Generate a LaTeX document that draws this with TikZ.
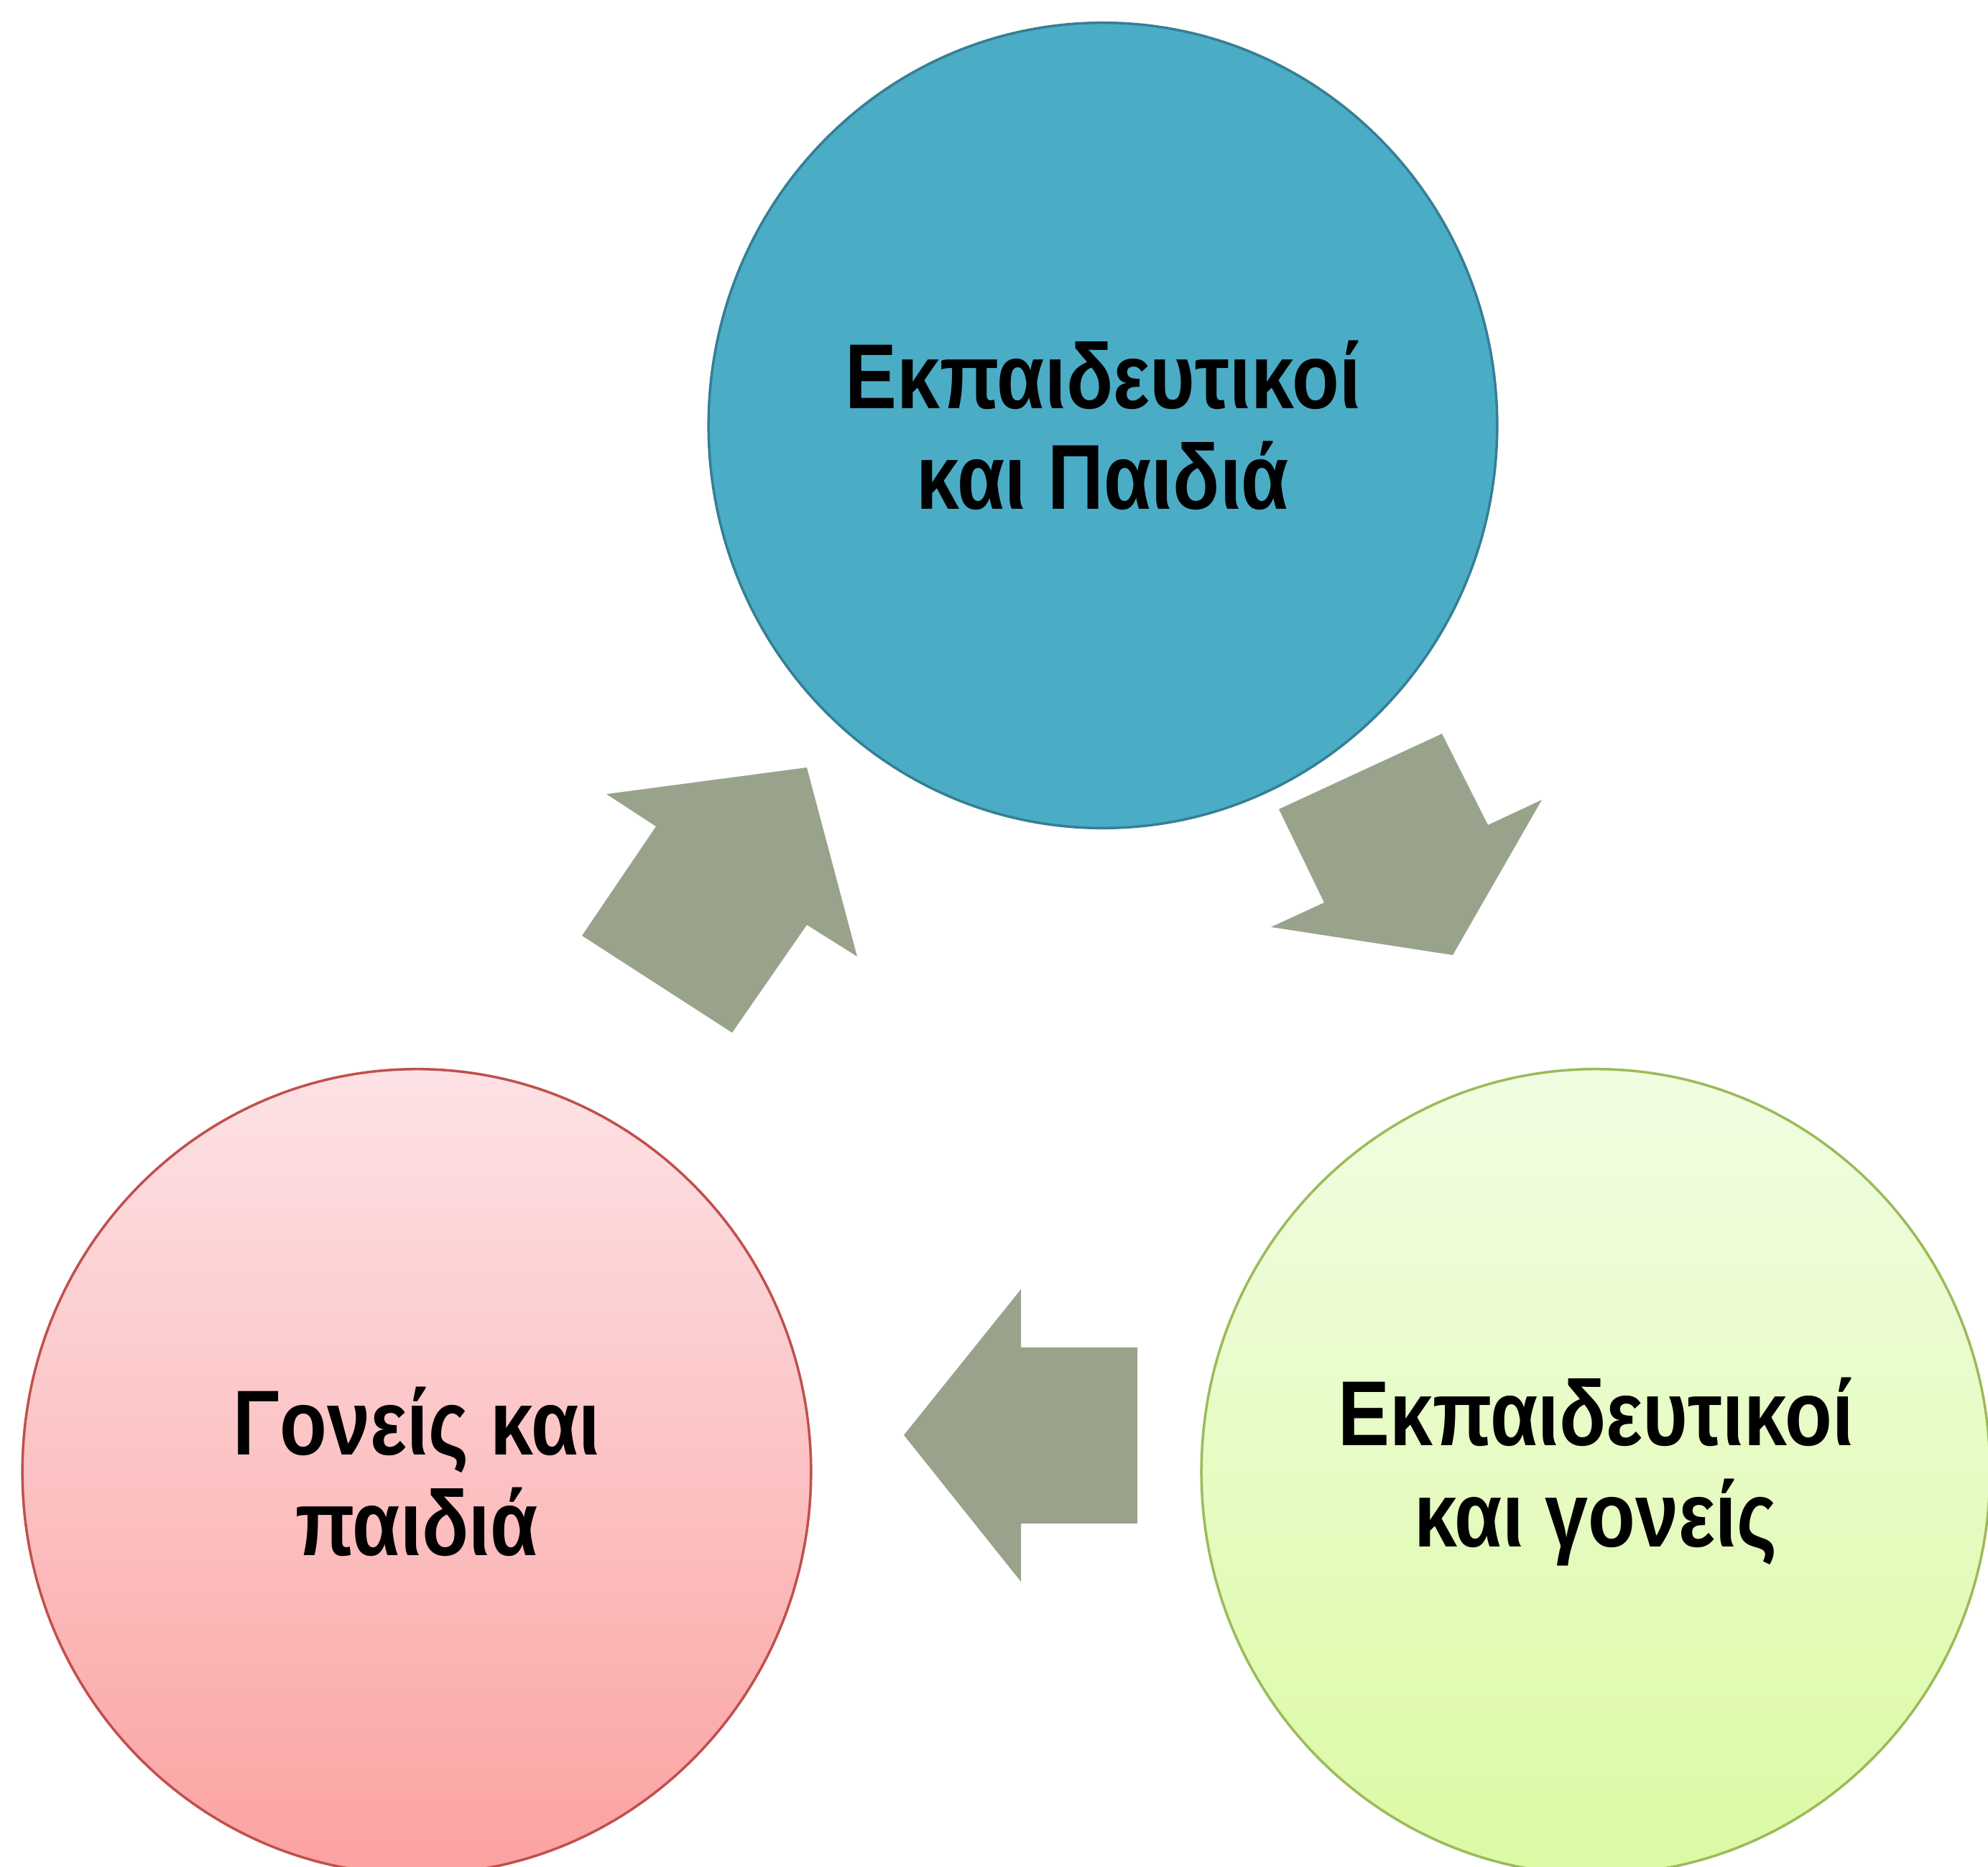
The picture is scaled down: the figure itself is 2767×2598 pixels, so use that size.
\documentclass[tikz,border=0pt]{standalone}
\usepackage{fontspec}
\setmainfont{Liberation Sans}
\newfontfamily\labfont[FakeStretch=0.84]{Liberation Sans}
\usetikzlibrary{shapes.geometric}
\definecolor{topfill}{HTML}{4BACC6}
\definecolor{topline}{HTML}{357F94}
\definecolor{pinktop}{HTML}{FDE2E5}
\definecolor{pinkbot}{HTML}{FBA2A1}
\definecolor{pinkline}{HTML}{C0504D}
\definecolor{greentop}{HTML}{F1FDE2}
\definecolor{greenbot}{HTML}{DBFAA4}
\definecolor{greenline}{HTML}{9BBB59}
\definecolor{arrowfill}{HTML}{99A38C}
\tikzset{
  bubble/.style={ellipse, minimum width=10.97cm, minimum height=11.2cm, inner sep=0pt,
    line width=1pt, align=center,
    font=\labfont\bfseries\fontsize{36.5}{40}\selectfont},
  blockarrow/.style={fill=arrowfill, draw=none}
}
\begin{document}
\begin{tikzpicture}[x=0.01cm, y=-0.01cm]
\useasboundingbox (0,0) rectangle (2767,2598);
\begin{scope}
\clip (0,0) rectangle (2767,2598);
\node[bubble, fill=topfill, draw=topline] (teach) at (1535,592) {Εκπαιδευτικοί\\και Παιδιά};
\node[bubble, top color=pinktop, bottom color=pinkbot, draw=pinkline] (parents) at (580,2048) {Γονείς και\\παιδιά};
\node[bubble, top color=greentop, bottom color=greenbot, draw=greenline] (tp) at (2221,2048) {Εκπαιδευτικοί\\και γονείς};
\end{scope}
% arrow: parents -> teachers
\fill[blockarrow] (844,1105) -- (1123,1068) -- (1193,1331) -- (1123,1287) -- (1019,1437) -- (810,1302) -- (913,1150) -- cycle;
% arrow: teachers -> teachers & parents
\fill[blockarrow] (1780,1126) -- (2007,1021) -- (2071,1148) -- (2146,1113) -- (2022,1329) -- (1769,1290) -- (1843,1256) -- cycle;
% arrow: teachers & parents -> parents
\fill[blockarrow] (1421,1794) -- (1421,1875) -- (1583,1875) -- (1583,2120) -- (1421,2120) -- (1421,2201) -- (1258,1997) -- cycle;
\end{tikzpicture}
\end{document}
